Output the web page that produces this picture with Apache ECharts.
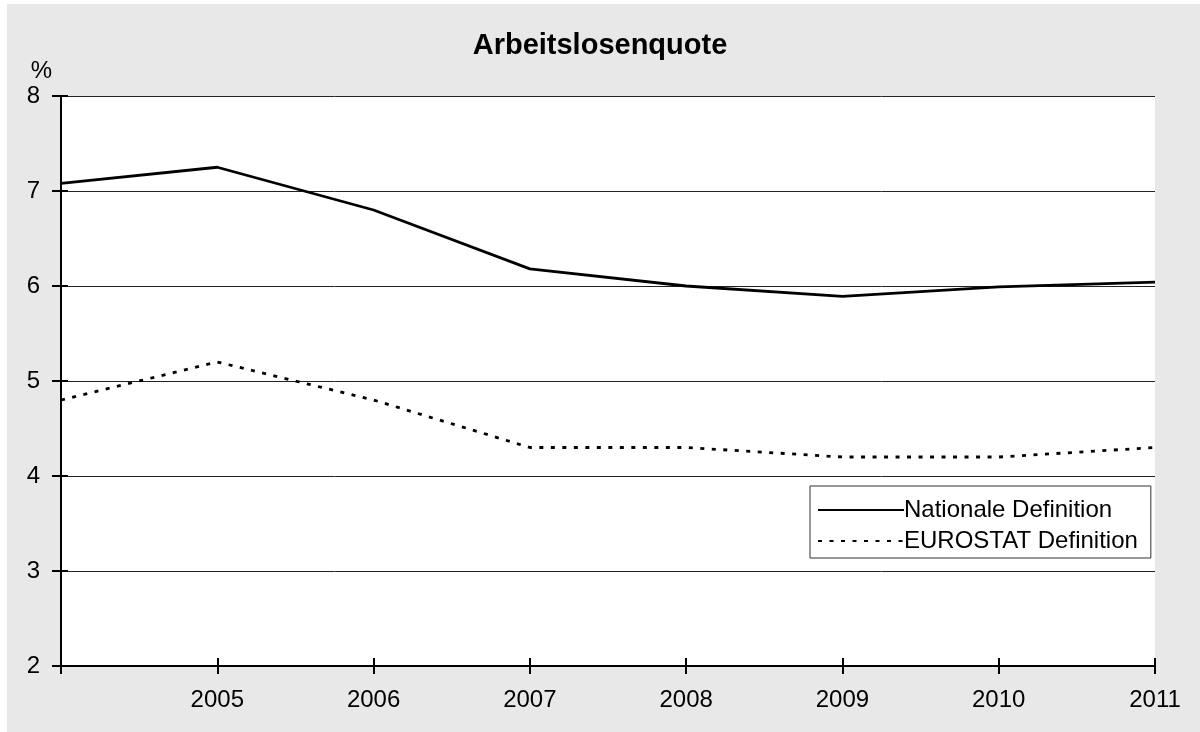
<!DOCTYPE html>
<html>
<head>
<meta charset="utf-8">
<script src="https://cdn.jsdelivr.net/npm/echarts@6/dist/echarts.min.js"></script>
<style>
  html, body { margin: 0; padding: 0; background: #ffffff; }
  #frame { position: absolute; left: 7px; top: 4px; right: 0; bottom: 0; background: #e8e8e8; }
  #chart { position: absolute; left: 0; top: 0; width: 1200px; height: 732px; }
</style>
</head>
<body>
<div id="frame"></div>
<div id="chart"></div>
<script>
// Jahre (erster Punkt ohne Beschriftung)
const years = ['', '2005', '2006', '2007', '2008', '2009', '2010', '2011'];
// Arbeitslosenquote in %
const nationale = [7.08, 7.25, 6.80, 6.18, 6.00, 5.89, 5.99, 6.04];
const eurostat = [4.8, 5.2, 4.8, 4.3, 4.3, 4.2, 4.2, 4.3];
const yTicks = { min: 2, max: 8, interval: 1 };

const FONT = 'Liberation Sans, Arial, sans-serif';
const chart = echarts.init(document.getElementById('chart'), null, { renderer: 'canvas' });

const gridRect = { left: 61, right: 45, top: 96, bottom: 66 };

chart.setOption({
  backgroundColor: 'transparent',
  animation: false,
  title: {
    text: 'Arbeitslosenquote',
    left: 'center',
    top: 31,
    padding: 0,
    textStyle: { fontFamily: FONT, fontSize: 29, fontWeight: 'bold', color: '#000' }
  },
  legend: {
    orient: 'vertical',
    left: 810,
    top: 486,
    padding: [12, 13, 5, 7],
    backgroundColor: '#ffffff',
    borderColor: '#333',
    borderWidth: 1,
    borderRadius: 0,
    itemWidth: 86,
    itemHeight: 14,
    itemGap: 7,
    itemStyle: { opacity: 0 },
    textStyle: { fontFamily: FONT, fontSize: 24, color: '#000', padding: [0, 0, 0, -5], lineHeight: 24 },
    data: ['Nationale Definition', 'EUROSTAT Definition']
  },
  grid: Object.assign({ show: true, backgroundColor: '#ffffff', borderWidth: 0 }, gridRect),
  xAxis: [
    {
      type: 'category',
      data: years,
      boundaryGap: false,
      axisLine: { lineStyle: { color: '#000', width: 2 } },
      axisTick: { show: true, length: 8, lineStyle: { color: '#000', width: 2 } },
      axisLabel: { fontFamily: FONT, fontSize: 24, color: '#000', margin: 22 },
      splitLine: { show: false }
    },
    {
      type: 'category',
      data: years,
      boundaryGap: false,
      position: 'bottom',
      axisLine: { show: false },
      axisTick: { show: true, inside: true, length: 8, lineStyle: { color: '#000', width: 2 } },
      axisLabel: { show: false },
      splitLine: { show: false }
    }
  ],
  yAxis: [
    {
      type: 'value',
      min: yTicks.min,
      max: yTicks.max,
      interval: yTicks.interval,
      name: '%',
      nameLocation: 'end',
      nameGap: 13,
      nameTextStyle: { fontFamily: FONT, fontSize: 24, color: '#000', align: 'right', padding: [0, 9, 0, 0] },
      axisLine: { show: true, lineStyle: { color: '#000', width: 2 } },
      axisTick: { show: true, length: 9, lineStyle: { color: '#000', width: 2 } },
      axisLabel: { fontFamily: FONT, fontSize: 24, color: '#000', margin: 21 },
      splitLine: { show: true, lineStyle: { color: '#222', width: 1 } }
    },
    {
      type: 'value',
      min: yTicks.min,
      max: yTicks.max,
      interval: yTicks.interval,
      position: 'left',
      axisLine: { show: false },
      axisTick: { show: true, inside: true, length: 7, lineStyle: { color: '#000', width: 2 } },
      axisLabel: { show: false },
      splitLine: { show: false }
    }
  ],
  series: [
    {
      name: 'Nationale Definition',
      type: 'line',
      data: nationale,
      symbol: 'none',
      lineStyle: { color: '#000', width: 2.8 },
      itemStyle: { color: '#000' },
      z: 5
    },
    {
      name: 'EUROSTAT Definition',
      type: 'line',
      data: eurostat,
      symbol: 'none',
      lineStyle: { color: '#000', width: 2.8, type: [4, 7.5] },
      itemStyle: { color: '#000' },
      z: 5
    }
  ]
});
</script>
</body>
</html>
